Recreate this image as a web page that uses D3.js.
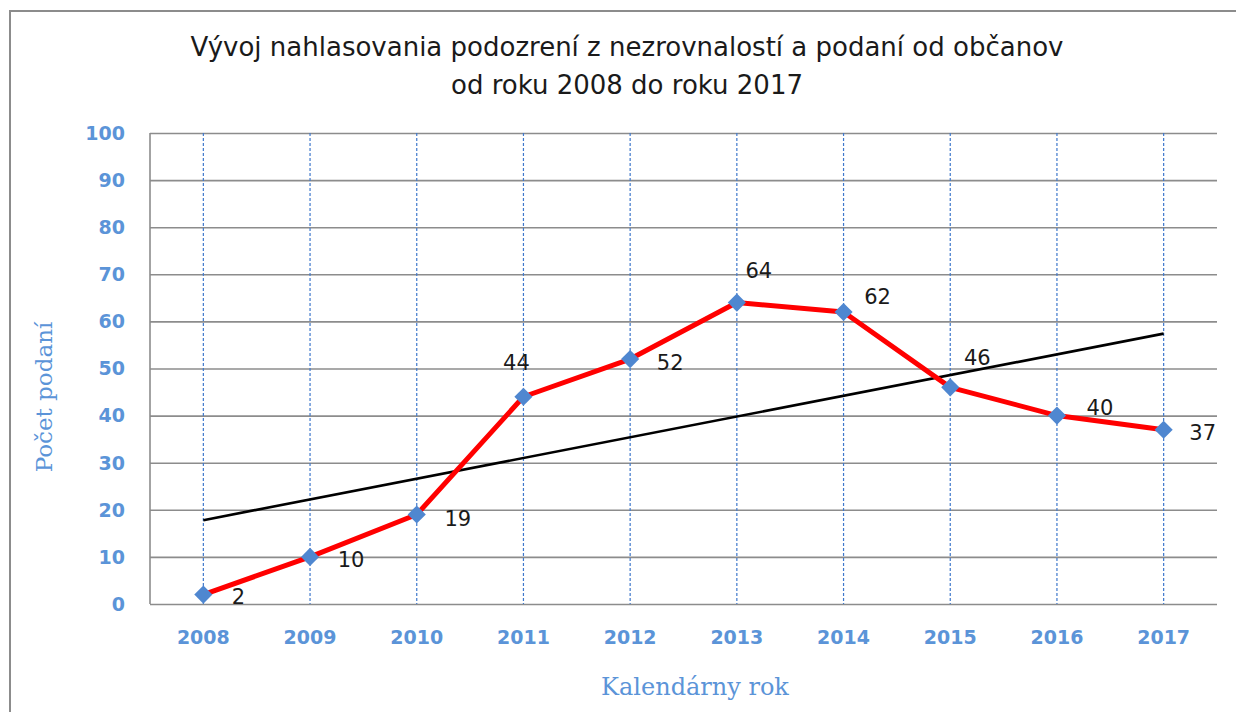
<!DOCTYPE html>
<html>
<head>
<meta charset="utf-8">
<script src="https://cdn.jsdelivr.net/npm/d3@7"></script>
<style>
	body { margin: 0; background: #fff; }
	svg { display: block; }
	.tick-lbl { font-family: "DejaVu Sans", sans-serif; font-weight: bold; font-size: 19px; fill: #5b94d8; }
	.ax-title { font-family: "DejaVu Serif", serif; fill: #5b94d8; }
</style>
</head>
<body>
<script>
// data
var years = ["2008", "2009", "2010", "2011", "2012", "2013", "2014", "2015", "2016", "2017"];
var podania = [2, 10, 19, 44, 52, 64, 62, 46, 40, 37];
var trendYears = ["2008", "2017"];
var trendValues = [17.8, 57.4];
var yTicks = [0, 10, 20, 30, 40, 50, 60, 70, 80, 90, 100];
var titleLines = ["Vývoj nahlasovania podozrení z nezrovnalostí a podaní od občanov", "od roku 2008 do roku 2017"];

// label placement, pixels from each point
var lblDx = [35, 41, 41, -7, 40, 22, 34, 27, 43, 39],
	lblDy = [2, 3, 3.5, -34, 3, -32, -16, -30, -8, 3];

var W = 1236, H = 712,
	plot = {left: 150, right: 1217, top: 133, bottom: 604};

var xSc = d3.scalePoint().domain(years).range([plot.left, plot.right]).padding(0.5),
	ySc = d3.scaleLinear().domain([0, 100]).range([plot.bottom, plot.top]);

var svg = d3.select("body").append("svg")
	.attr("width", W)
	.attr("height", H);

// outer frame (cut off at right/bottom like the screenshot)
svg.append("rect")
	.attr("x", 10).attr("y", 11)
	.attr("width", W + 20).attr("height", H + 20)
	.attr("fill", "none")
	.attr("stroke", "#8c8c8c")
	.attr("stroke-width", 2);

svg.append("g").selectAll("text")
	.data(titleLines)
	.enter().append("text")
	.attr("x", 627)
	.attr("y", function(d, i) { return 56 + i * 38; })
	.attr("text-anchor", "middle")
	.attr("font-family", "DejaVu Sans, sans-serif")
	.attr("font-size", "26px")
	.attr("fill", "#1a1a1a")
	.text(function(d) { return d; });

// horizontal grid
var yAxis = d3.axisLeft(ySc).tickValues(yTicks).tickSize(-(plot.right - plot.left)).tickFormat("");
var gy = svg.append("g")
	.attr("transform", "translate(" + plot.left + ",0)")
	.call(yAxis);
gy.select(".domain").remove();
gy.selectAll(".tick line").attr("stroke", "#8c8c8c").attr("stroke-width", 1.6);

// vertical dashed grid
svg.append("g").selectAll("line")
	.data(years)
	.enter().append("line")
	.attr("x1", function(d) { return xSc(d); })
	.attr("x2", function(d) { return xSc(d); })
	.attr("y1", plot.top)
	.attr("y2", plot.bottom)
	.attr("stroke", "#3f78cc")
	.attr("stroke-width", 1.2)
	.attr("stroke-dasharray", "3,2");

// left axis line
svg.append("line")
	.attr("x1", plot.left).attr("x2", plot.left)
	.attr("y1", plot.top).attr("y2", plot.bottom)
	.attr("stroke", "#8c8c8c").attr("stroke-width", 1.6);

svg.append("g").selectAll("text")
	.data(yTicks)
	.enter().append("text")
	.attr("class", "tick-lbl")
	.attr("x", 125)
	.attr("y", function(d) { return ySc(d); })
	.attr("dy", "0.36em")
	.attr("text-anchor", "end")
	.text(function(d) { return d; });

svg.append("g").selectAll("text")
	.data(years)
	.enter().append("text")
	.attr("class", "tick-lbl")
	.attr("x", function(d) { return xSc(d); })
	.attr("y", 637)
	.attr("dy", "0.36em")
	.attr("text-anchor", "middle")
	.text(function(d) { return d; });

svg.append("text")
	.attr("class", "ax-title")
	.attr("x", 695)
	.attr("y", 695)
	.attr("font-size", "24px")
	.attr("text-anchor", "middle")
	.text("Kalendárny rok");

svg.append("text")
	.attr("class", "ax-title")
	.attr("transform", "translate(52,397) rotate(-90)")
	.attr("font-size", "23px")
	.attr("text-anchor", "middle")
	.text("Počet podaní");

// trend line
var trend = trendYears.map(function(y, i) { return [y, trendValues[i]]; });
svg.append("path")
	.datum(trend)
	.attr("fill", "none")
	.attr("stroke", "#000")
	.attr("stroke-width", 2.6)
	.attr("d", d3.line()
		.x(function(d) { return xSc(d[0]); })
		.y(function(d) { return ySc(d[1]); }));

// main series
var pts = years.map(function(y, i) { return {year: y, val: podania[i], i: i}; });

svg.append("path")
	.datum(pts)
	.attr("fill", "none")
	.attr("stroke", "#ff0000")
	.attr("stroke-width", 5)
	.attr("stroke-linejoin", "round")
	.attr("d", d3.line()
		.x(function(d) { return xSc(d.year); })
		.y(function(d) { return ySc(d.val); }));

svg.append("g").selectAll("path")
	.data(pts)
	.enter().append("path")
	.attr("transform", function(d) { return "translate(" + xSc(d.year) + "," + ySc(d.val) + ")"; })
	.attr("d", d3.symbol().type(d3.symbolDiamond2).size(210))
	.attr("fill", "#4f87d0");

svg.append("g").selectAll("text")
	.data(pts)
	.enter().append("text")
	.attr("x", function(d) { return xSc(d.year) + lblDx[d.i]; })
	.attr("y", function(d) { return ySc(d.val) + lblDy[d.i]; })
	.attr("dy", "0.36em")
	.attr("text-anchor", "middle")
	.attr("font-family", "DejaVu Sans, sans-serif")
	.attr("font-size", "21px")
	.attr("fill", "#1a1a1a")
	.text(function(d) { return d.val; });
</script>
</body>
</html>
